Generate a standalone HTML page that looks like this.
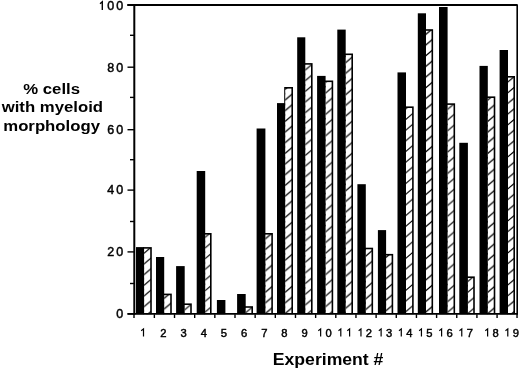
<!DOCTYPE html><html><head><meta charset="utf-8"><style>
html,body{margin:0;padding:0;background:#fff;width:520px;height:370px;overflow:hidden}
svg{display:block;will-change:transform}
text{font-family:"Liberation Sans",sans-serif;fill:#000;stroke:#000;stroke-width:0.45px}
text.b{stroke:none}
</style></head><body>
<svg width="520" height="370" viewBox="0 0 520 370">
<defs>
<pattern id="p0" patternUnits="userSpaceOnUse" x="144.10" y="314.2" width="8" height="10.68"><rect x="0" y="0" width="8" height="10.68" fill="#fff"/><path d="M-2,-5.88 L10,-16.08 M-2,4.80 L10,-5.40 M-2,15.48 L10,5.28 M-2,26.16 L10,15.96 " stroke="#000" stroke-width="1.2" fill="none"/></pattern>
<pattern id="p1" patternUnits="userSpaceOnUse" x="164.20" y="314.2" width="8" height="10.68"><rect x="0" y="0" width="8" height="10.68" fill="#fff"/><path d="M-2,-3.48 L10,-13.68 M-2,7.20 L10,-3.00 M-2,17.88 L10,7.68 M-2,28.56 L10,18.36 " stroke="#000" stroke-width="1.2" fill="none"/></pattern>
<pattern id="p2" patternUnits="userSpaceOnUse" x="184.70" y="314.2" width="8" height="10.68"><rect x="0" y="0" width="8" height="10.68" fill="#fff"/><path d="M-2,-2.68 L10,-12.88 M-2,8.00 L10,-2.20 M-2,18.68 L10,8.48 M-2,29.36 L10,19.16 " stroke="#000" stroke-width="1.2" fill="none"/></pattern>
<pattern id="p3" patternUnits="userSpaceOnUse" x="205.20" y="314.2" width="8" height="10.68"><rect x="0" y="0" width="8" height="10.68" fill="#fff"/><path d="M-2,-0.48 L10,-10.68 M-2,10.20 L10,0.00 M-2,20.88 L10,10.68 M-2,31.56 L10,21.36 " stroke="#000" stroke-width="1.2" fill="none"/></pattern>
<pattern id="p5" patternUnits="userSpaceOnUse" x="245.70" y="314.2" width="8" height="10.68"><rect x="0" y="0" width="8" height="10.68" fill="#fff"/><path d="M-2,0.22 L10,-9.98 M-2,10.90 L10,0.70 M-2,21.58 L10,11.38 M-2,32.26 L10,22.06 " stroke="#000" stroke-width="1.2" fill="none"/></pattern>
<pattern id="p6" patternUnits="userSpaceOnUse" x="265.40" y="314.2" width="8" height="10.68"><rect x="0" y="0" width="8" height="10.68" fill="#fff"/><path d="M-2,1.12 L10,-9.08 M-2,11.80 L10,1.60 M-2,22.48 L10,12.28 M-2,33.16 L10,22.96 " stroke="#000" stroke-width="1.2" fill="none"/></pattern>
<pattern id="p7" patternUnits="userSpaceOnUse" x="285.20" y="314.2" width="8" height="10.68"><rect x="0" y="0" width="8" height="10.68" fill="#fff"/><path d="M-2,1.12 L10,-9.08 M-2,11.80 L10,1.60 M-2,22.48 L10,12.28 M-2,33.16 L10,22.96 " stroke="#000" stroke-width="1.2" fill="none"/></pattern>
<pattern id="p8" patternUnits="userSpaceOnUse" x="305.30" y="314.2" width="8" height="10.68"><rect x="0" y="0" width="8" height="10.68" fill="#fff"/><path d="M-2,-7.48 L10,-17.68 M-2,3.20 L10,-7.00 M-2,13.88 L10,3.68 M-2,24.56 L10,14.36 " stroke="#000" stroke-width="1.2" fill="none"/></pattern>
<pattern id="p9" patternUnits="userSpaceOnUse" x="325.60" y="314.2" width="8" height="10.68"><rect x="0" y="0" width="8" height="10.68" fill="#fff"/><path d="M-2,-5.88 L10,-16.08 M-2,4.80 L10,-5.40 M-2,15.48 L10,5.28 M-2,26.16 L10,15.96 " stroke="#000" stroke-width="1.2" fill="none"/></pattern>
<pattern id="p10" patternUnits="userSpaceOnUse" x="345.70" y="314.2" width="8" height="10.68"><rect x="0" y="0" width="8" height="10.68" fill="#fff"/><path d="M-2,-4.28 L10,-14.48 M-2,6.40 L10,-3.80 M-2,17.08 L10,6.88 M-2,27.76 L10,17.56 " stroke="#000" stroke-width="1.2" fill="none"/></pattern>
<pattern id="p11" patternUnits="userSpaceOnUse" x="365.80" y="314.2" width="8" height="10.68"><rect x="0" y="0" width="8" height="10.68" fill="#fff"/><path d="M-2,-3.08 L10,-13.28 M-2,7.60 L10,-2.60 M-2,18.28 L10,8.08 M-2,28.96 L10,18.76 " stroke="#000" stroke-width="1.2" fill="none"/></pattern>
<pattern id="p12" patternUnits="userSpaceOnUse" x="386.10" y="314.2" width="8" height="10.68"><rect x="0" y="0" width="8" height="10.68" fill="#fff"/><path d="M-2,-1.78 L10,-11.98 M-2,8.90 L10,-1.30 M-2,19.58 L10,9.38 M-2,30.26 L10,20.06 " stroke="#000" stroke-width="1.2" fill="none"/></pattern>
<pattern id="p13" patternUnits="userSpaceOnUse" x="406.00" y="314.2" width="8" height="10.68"><rect x="0" y="0" width="8" height="10.68" fill="#fff"/><path d="M-2,-0.98 L10,-11.18 M-2,9.70 L10,-0.50 M-2,20.38 L10,10.18 M-2,31.06 L10,20.86 " stroke="#000" stroke-width="1.2" fill="none"/></pattern>
<pattern id="p14" patternUnits="userSpaceOnUse" x="426.00" y="314.2" width="8" height="10.68"><rect x="0" y="0" width="8" height="10.68" fill="#fff"/><path d="M-2,-0.58 L10,-10.78 M-2,10.10 L10,-0.10 M-2,20.78 L10,10.58 M-2,31.46 L10,21.26 " stroke="#000" stroke-width="1.2" fill="none"/></pattern>
<pattern id="p15" patternUnits="userSpaceOnUse" x="447.60" y="314.2" width="8" height="10.68"><rect x="0" y="0" width="8" height="10.68" fill="#fff"/><path d="M-2,-0.18 L10,-10.38 M-2,10.50 L10,0.30 M-2,21.18 L10,10.98 M-2,31.86 L10,21.66 " stroke="#000" stroke-width="1.2" fill="none"/></pattern>
<pattern id="p16" patternUnits="userSpaceOnUse" x="467.90" y="314.2" width="8" height="10.68"><rect x="0" y="0" width="8" height="10.68" fill="#fff"/><path d="M-2,0.92 L10,-9.28 M-2,11.60 L10,1.40 M-2,22.28 L10,12.08 M-2,32.96 L10,22.76 " stroke="#000" stroke-width="1.2" fill="none"/></pattern>
<pattern id="p17" patternUnits="userSpaceOnUse" x="487.80" y="314.2" width="8" height="10.68"><rect x="0" y="0" width="8" height="10.68" fill="#fff"/><path d="M-2,1.12 L10,-9.08 M-2,11.80 L10,1.60 M-2,22.48 L10,12.28 M-2,33.16 L10,22.96 " stroke="#000" stroke-width="1.2" fill="none"/></pattern>
<pattern id="p18" patternUnits="userSpaceOnUse" x="508.00" y="314.2" width="8" height="10.68"><rect x="0" y="0" width="8" height="10.68" fill="#fff"/><path d="M-2,-6.28 L10,-16.48 M-2,4.40 L10,-5.80 M-2,15.08 L10,4.88 M-2,25.76 L10,15.56 " stroke="#000" stroke-width="1.2" fill="none"/></pattern>
</defs>
<rect x="136.00" y="247.10" width="8.10" height="67.10" fill="#000"/>
<rect x="143.10" y="247.10" width="8.70" height="67.10" fill="#000"/>
<rect x="144.10" y="248.70" width="6.10" height="65.50" fill="url(#p0)"/>
<rect x="156.00" y="257.00" width="8.20" height="57.20" fill="#000"/>
<rect x="163.20" y="293.60" width="8.60" height="20.60" fill="#000"/>
<rect x="164.20" y="295.20" width="6.00" height="19.00" fill="url(#p1)"/>
<rect x="176.10" y="266.10" width="8.60" height="48.10" fill="#000"/>
<rect x="183.70" y="303.40" width="8.10" height="10.80" fill="#000"/>
<rect x="184.70" y="305.00" width="5.50" height="9.20" fill="url(#p2)"/>
<rect x="196.70" y="171.00" width="8.50" height="143.20" fill="#000"/>
<rect x="204.20" y="233.00" width="7.40" height="81.20" fill="#000"/>
<rect x="205.20" y="234.60" width="4.80" height="79.60" fill="url(#p3)"/>
<rect x="216.90" y="300.00" width="8.50" height="14.20" fill="#000"/>
<rect x="237.10" y="294.00" width="8.60" height="20.20" fill="#000"/>
<rect x="244.70" y="306.20" width="8.30" height="8.00" fill="#000"/>
<rect x="245.70" y="307.80" width="5.70" height="6.40" fill="url(#p5)"/>
<rect x="256.60" y="128.50" width="8.80" height="185.70" fill="#000"/>
<rect x="264.40" y="233.00" width="8.50" height="81.20" fill="#000"/>
<rect x="265.40" y="234.60" width="5.90" height="79.60" fill="url(#p6)"/>
<rect x="277.00" y="103.10" width="8.20" height="211.10" fill="#000"/>
<rect x="284.20" y="87.00" width="8.80" height="227.20" fill="#000"/>
<rect x="285.20" y="88.60" width="6.20" height="225.60" fill="url(#p7)"/>
<rect x="297.20" y="37.30" width="8.10" height="276.90" fill="#000"/>
<rect x="304.30" y="63.10" width="8.30" height="251.10" fill="#000"/>
<rect x="305.30" y="64.70" width="5.70" height="249.50" fill="url(#p8)"/>
<rect x="317.10" y="75.90" width="8.50" height="238.30" fill="#000"/>
<rect x="324.60" y="80.50" width="8.60" height="233.70" fill="#000"/>
<rect x="325.60" y="82.10" width="6.00" height="232.10" fill="url(#p9)"/>
<rect x="337.30" y="29.60" width="8.40" height="284.60" fill="#000"/>
<rect x="344.70" y="53.50" width="8.30" height="260.70" fill="#000"/>
<rect x="345.70" y="55.10" width="5.70" height="259.10" fill="url(#p10)"/>
<rect x="357.40" y="184.20" width="8.40" height="130.00" fill="#000"/>
<rect x="364.80" y="247.70" width="8.30" height="66.50" fill="#000"/>
<rect x="365.80" y="249.30" width="5.70" height="64.90" fill="url(#p11)"/>
<rect x="377.90" y="230.10" width="8.20" height="84.10" fill="#000"/>
<rect x="385.10" y="253.90" width="8.10" height="60.30" fill="#000"/>
<rect x="386.10" y="255.50" width="5.50" height="58.70" fill="url(#p12)"/>
<rect x="397.50" y="72.40" width="8.50" height="241.80" fill="#000"/>
<rect x="405.00" y="106.40" width="8.70" height="207.80" fill="#000"/>
<rect x="406.00" y="108.00" width="6.10" height="206.20" fill="url(#p13)"/>
<rect x="417.80" y="13.30" width="8.20" height="300.90" fill="#000"/>
<rect x="425.00" y="29.20" width="8.10" height="285.00" fill="#000"/>
<rect x="426.00" y="30.80" width="5.50" height="283.40" fill="url(#p14)"/>
<rect x="439.00" y="7.00" width="8.60" height="307.20" fill="#000"/>
<rect x="446.60" y="103.30" width="8.50" height="210.90" fill="#000"/>
<rect x="447.60" y="104.90" width="5.90" height="209.30" fill="url(#p15)"/>
<rect x="459.30" y="142.80" width="8.60" height="171.40" fill="#000"/>
<rect x="466.90" y="276.40" width="7.90" height="37.80" fill="#000"/>
<rect x="467.90" y="278.00" width="5.30" height="36.20" fill="url(#p16)"/>
<rect x="479.50" y="65.90" width="8.30" height="248.30" fill="#000"/>
<rect x="486.80" y="96.40" width="8.50" height="217.80" fill="#000"/>
<rect x="487.80" y="98.00" width="5.90" height="216.20" fill="url(#p17)"/>
<rect x="499.60" y="50.00" width="8.40" height="264.20" fill="#000"/>
<rect x="507.00" y="76.00" width="8.00" height="238.20" fill="#000"/>
<rect x="508.00" y="77.60" width="5.40" height="236.60" fill="url(#p18)"/>
<line x1="134.3" y1="4.05" x2="134.3" y2="314.9" stroke="#000" stroke-width="2.0"/>
<line x1="127.3" y1="5.0" x2="517.7" y2="5.0" stroke="#000" stroke-width="1.9"/>
<line x1="127.5" y1="313.9" x2="517.7" y2="313.9" stroke="#000" stroke-width="1.9"/>
<line x1="517.2" y1="5.0" x2="517.2" y2="314.8" stroke="#000" stroke-width="1.6"/>
<line x1="127.5" y1="313.90" x2="134" y2="313.90" stroke="#000" stroke-width="1.4"/>
<line x1="130" y1="283.50" x2="134" y2="283.50" stroke="#000" stroke-width="1.4"/>
<line x1="127.5" y1="251.90" x2="134" y2="251.90" stroke="#000" stroke-width="1.4"/>
<line x1="130" y1="221.50" x2="134" y2="221.50" stroke="#000" stroke-width="1.4"/>
<line x1="127.5" y1="190.10" x2="134" y2="190.10" stroke="#000" stroke-width="1.4"/>
<line x1="130" y1="159.70" x2="134" y2="159.70" stroke="#000" stroke-width="1.4"/>
<line x1="127.5" y1="129.70" x2="134" y2="129.70" stroke="#000" stroke-width="1.4"/>
<line x1="130" y1="97.40" x2="134" y2="97.40" stroke="#000" stroke-width="1.4"/>
<line x1="127.5" y1="67.20" x2="134" y2="67.20" stroke="#000" stroke-width="1.4"/>
<line x1="130" y1="35.30" x2="134" y2="35.30" stroke="#000" stroke-width="1.4"/>
<line x1="127.5" y1="5.00" x2="134" y2="5.00" stroke="#000" stroke-width="1.4"/>
<line x1="134.00" y1="314.2" x2="134.00" y2="318" stroke="#000" stroke-width="1.4"/>
<line x1="154.36" y1="314.2" x2="154.36" y2="318" stroke="#000" stroke-width="1.4"/>
<line x1="174.52" y1="314.2" x2="174.52" y2="318" stroke="#000" stroke-width="1.4"/>
<line x1="194.68" y1="314.2" x2="194.68" y2="318" stroke="#000" stroke-width="1.4"/>
<line x1="214.84" y1="314.2" x2="214.84" y2="318" stroke="#000" stroke-width="1.4"/>
<line x1="235.00" y1="314.2" x2="235.00" y2="318" stroke="#000" stroke-width="1.4"/>
<line x1="255.16" y1="314.2" x2="255.16" y2="318" stroke="#000" stroke-width="1.4"/>
<line x1="275.32" y1="314.2" x2="275.32" y2="318" stroke="#000" stroke-width="1.4"/>
<line x1="295.48" y1="314.2" x2="295.48" y2="318" stroke="#000" stroke-width="1.4"/>
<line x1="315.64" y1="314.2" x2="315.64" y2="318" stroke="#000" stroke-width="1.4"/>
<line x1="335.80" y1="314.2" x2="335.80" y2="318" stroke="#000" stroke-width="1.4"/>
<line x1="355.96" y1="314.2" x2="355.96" y2="318" stroke="#000" stroke-width="1.4"/>
<line x1="376.12" y1="314.2" x2="376.12" y2="318" stroke="#000" stroke-width="1.4"/>
<line x1="396.28" y1="314.2" x2="396.28" y2="318" stroke="#000" stroke-width="1.4"/>
<line x1="416.44" y1="314.2" x2="416.44" y2="318" stroke="#000" stroke-width="1.4"/>
<line x1="436.60" y1="314.2" x2="436.60" y2="318" stroke="#000" stroke-width="1.4"/>
<line x1="456.76" y1="314.2" x2="456.76" y2="318" stroke="#000" stroke-width="1.4"/>
<line x1="476.92" y1="314.2" x2="476.92" y2="318" stroke="#000" stroke-width="1.4"/>
<line x1="497.08" y1="314.2" x2="497.08" y2="318" stroke="#000" stroke-width="1.4"/>
<line x1="517.04" y1="314.2" x2="517.04" y2="318" stroke="#000" stroke-width="1.4"/>
<text transform="translate(119.70,318.40) scale(1.0,1)" x="0" y="0" font-size="12.5" text-anchor="middle">0</text>
<text transform="translate(110.70,256.30) scale(1.0,1)" x="0" y="0" font-size="12.5" text-anchor="middle">2</text>
<text transform="translate(119.70,256.30) scale(1.0,1)" x="0" y="0" font-size="12.5" text-anchor="middle">0</text>
<text transform="translate(110.70,194.40) scale(1.0,1)" x="0" y="0" font-size="12.5" text-anchor="middle">4</text>
<text transform="translate(119.70,194.40) scale(1.0,1)" x="0" y="0" font-size="12.5" text-anchor="middle">0</text>
<text transform="translate(110.70,134.20) scale(1.0,1)" x="0" y="0" font-size="12.5" text-anchor="middle">6</text>
<text transform="translate(119.70,134.20) scale(1.0,1)" x="0" y="0" font-size="12.5" text-anchor="middle">0</text>
<text transform="translate(110.70,71.80) scale(1.0,1)" x="0" y="0" font-size="12.5" text-anchor="middle">8</text>
<text transform="translate(119.70,71.80) scale(1.0,1)" x="0" y="0" font-size="12.5" text-anchor="middle">0</text>
<path d="M102.30,10.10 V1.80 L100.00,3.70" stroke="#000" stroke-width="1.35" fill="none" stroke-linejoin="miter"/>
<text transform="translate(110.70,10.00) scale(1.0,1)" x="0" y="0" font-size="12.5" text-anchor="middle">0</text>
<text transform="translate(119.70,10.00) scale(1.0,1)" x="0" y="0" font-size="12.5" text-anchor="middle">0</text>
<path d="M143.50,336.60 V328.90 L141.20,330.70" stroke="#000" stroke-width="1.2" fill="none" stroke-linejoin="miter"/>
<text transform="translate(163.46,336.50) scale(1.0,1)" x="0" y="0" font-size="11.2" text-anchor="middle">2</text>
<text transform="translate(183.62,336.50) scale(1.0,1)" x="0" y="0" font-size="11.2" text-anchor="middle">3</text>
<text transform="translate(203.78,336.50) scale(1.0,1)" x="0" y="0" font-size="11.2" text-anchor="middle">4</text>
<text transform="translate(223.94,336.50) scale(1.0,1)" x="0" y="0" font-size="11.2" text-anchor="middle">5</text>
<text transform="translate(244.10,336.50) scale(1.0,1)" x="0" y="0" font-size="11.2" text-anchor="middle">6</text>
<text transform="translate(264.26,336.50) scale(1.0,1)" x="0" y="0" font-size="11.2" text-anchor="middle">7</text>
<text transform="translate(284.42,336.50) scale(1.0,1)" x="0" y="0" font-size="11.2" text-anchor="middle">8</text>
<text transform="translate(304.58,336.50) scale(1.0,1)" x="0" y="0" font-size="11.2" text-anchor="middle">9</text>
<path d="M320.64,336.60 V328.90 L318.34,330.70" stroke="#000" stroke-width="1.2" fill="none" stroke-linejoin="miter"/>
<text transform="translate(328.64,336.50) scale(1.0,1)" x="0" y="0" font-size="11.2" text-anchor="middle">0</text>
<path d="M340.80,336.60 V328.90 L338.50,330.70" stroke="#000" stroke-width="1.2" fill="none" stroke-linejoin="miter"/>
<path d="M349.60,336.60 V328.90 L347.30,330.70" stroke="#000" stroke-width="1.2" fill="none" stroke-linejoin="miter"/>
<path d="M360.96,336.60 V328.90 L358.66,330.70" stroke="#000" stroke-width="1.2" fill="none" stroke-linejoin="miter"/>
<text transform="translate(368.96,336.50) scale(1.0,1)" x="0" y="0" font-size="11.2" text-anchor="middle">2</text>
<path d="M381.12,336.60 V328.90 L378.82,330.70" stroke="#000" stroke-width="1.2" fill="none" stroke-linejoin="miter"/>
<text transform="translate(389.12,336.50) scale(1.0,1)" x="0" y="0" font-size="11.2" text-anchor="middle">3</text>
<path d="M401.28,336.60 V328.90 L398.98,330.70" stroke="#000" stroke-width="1.2" fill="none" stroke-linejoin="miter"/>
<text transform="translate(409.28,336.50) scale(1.0,1)" x="0" y="0" font-size="11.2" text-anchor="middle">4</text>
<path d="M421.44,336.60 V328.90 L419.14,330.70" stroke="#000" stroke-width="1.2" fill="none" stroke-linejoin="miter"/>
<text transform="translate(429.44,336.50) scale(1.0,1)" x="0" y="0" font-size="11.2" text-anchor="middle">5</text>
<path d="M441.60,336.60 V328.90 L439.30,330.70" stroke="#000" stroke-width="1.2" fill="none" stroke-linejoin="miter"/>
<text transform="translate(449.60,336.50) scale(1.0,1)" x="0" y="0" font-size="11.2" text-anchor="middle">6</text>
<path d="M461.76,336.60 V328.90 L459.46,330.70" stroke="#000" stroke-width="1.2" fill="none" stroke-linejoin="miter"/>
<text transform="translate(469.76,336.50) scale(1.0,1)" x="0" y="0" font-size="11.2" text-anchor="middle">7</text>
<path d="M487.62,336.60 V328.90 L485.32,330.70" stroke="#000" stroke-width="1.2" fill="none" stroke-linejoin="miter"/>
<text transform="translate(495.62,336.50) scale(1.0,1)" x="0" y="0" font-size="11.2" text-anchor="middle">8</text>
<path d="M507.78,336.60 V328.90 L505.48,330.70" stroke="#000" stroke-width="1.2" fill="none" stroke-linejoin="miter"/>
<text transform="translate(515.78,336.50) scale(1.0,1)" x="0" y="0" font-size="11.2" text-anchor="middle">9</text>
<text transform="translate(51.65,93.6) scale(1.08,1)" x="0" y="0" font-size="15.5" font-weight="bold" text-anchor="middle" class="b">% cells</text>
<text transform="translate(52.35,111.6) scale(1.08,1)" x="0" y="0" font-size="15.5" font-weight="bold" text-anchor="middle" class="b">with myeloid</text>
<text transform="translate(51.6,130.6) scale(1.08,1)" x="0" y="0" font-size="15.5" font-weight="bold" text-anchor="middle" class="b">morphology</text>
<text transform="translate(328.1,364.6) scale(1.13,1)" x="0" y="0" font-size="15.6" font-weight="bold" text-anchor="middle" class="b">Experiment #</text>
</svg></body></html>
